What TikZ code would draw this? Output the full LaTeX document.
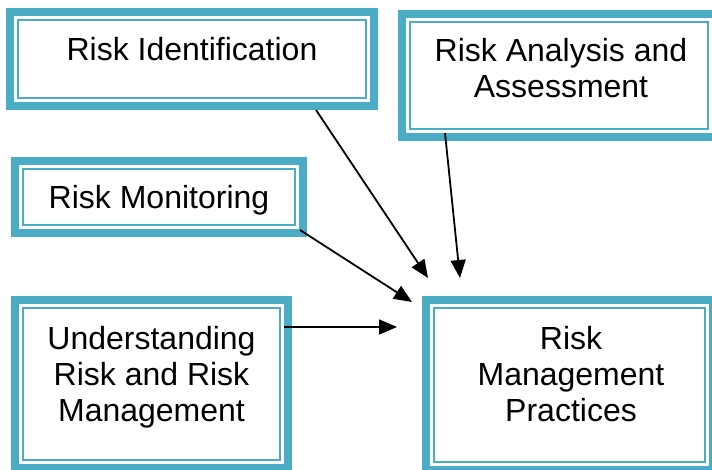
\documentclass[tikz,border=0pt]{standalone}
\usepackage{fontspec}
\setmainfont{Liberation Sans}
\usetikzlibrary{arrows.meta}
\definecolor{aqua}{HTML}{4BACC6}
\begin{document}
\begin{tikzpicture}[x=1pt,y=-1pt,
  boxnode/.style={rectangle, inner sep=0pt, outer sep=0pt},
  band/.style={draw=aqua, line width=8pt},
  rim/.style={draw=aqua, line width=2.4pt},
  lbl/.style={font=\fontsize{32}{36}\selectfont, align=center, inner sep=0pt, text=black},
  arr/.style={-{Triangle[length=18pt,width=15pt]}, line width=1.8pt, draw=black}]
\useasboundingbox (0,0) rectangle (712,470);

% boxes
\node[boxnode, minimum width=372pt, minimum height=102pt] (ri)  at (192,59) {};
\node[boxnode, minimum width=322pt, minimum height=131pt] (raa) at (559,75.5) {};
\node[boxnode, minimum width=296pt, minimum height=80pt]  (rm)  at (159,197) {};
\node[boxnode, minimum width=281pt, minimum height=176pt] (urm) at (151.5,384) {};
\node[boxnode, minimum width=295pt, minimum height=178pt] (rmp) at (569.5,385) {};

\foreach \n in {ri,raa,rm,urm,rmp}{
  \draw[band] ([shift={(4,4)}]\n.north west) rectangle ([shift={(-4,-4)}]\n.south east);
  \draw[rim] ([shift={(12,12)}]\n.north west) rectangle ([shift={(-12,-12)}]\n.south east);
}

% labels
\node[lbl, anchor=base] (ri-t) at (192,61) {Risk Identification};
\node[lbl] (raa-t) at (561,68.3) {Risk Analysis and\\Assessment};
\node[lbl, anchor=base] (rm-t) at (159,209) {Risk Monitoring};
\node[lbl] (urm-t) at (151.5,377.2) {Understanding\\Risk and Risk\\Management};
\node[lbl] (rmp-t) at (571,374.3) {Risk\\Management\\Practices};

% arrow tips
\coordinate (t1) at (428,278);
\coordinate (t2) at (460,278);
\coordinate (t3) at (412,302);
\coordinate (t4) at (397,327);

\draw[arr] ([xshift=-62pt]ri.south east) -- (t1);
\draw[arr] ([shift={(47,-8)}]raa.south west) -- (t2);
\draw[arr] ([shift={(-7,-7)}]rm.south east) -- (t3);
\draw[arr] ([shift={(-8,31)}]urm.north east) -- (t4);
\end{tikzpicture}
\end{document}
